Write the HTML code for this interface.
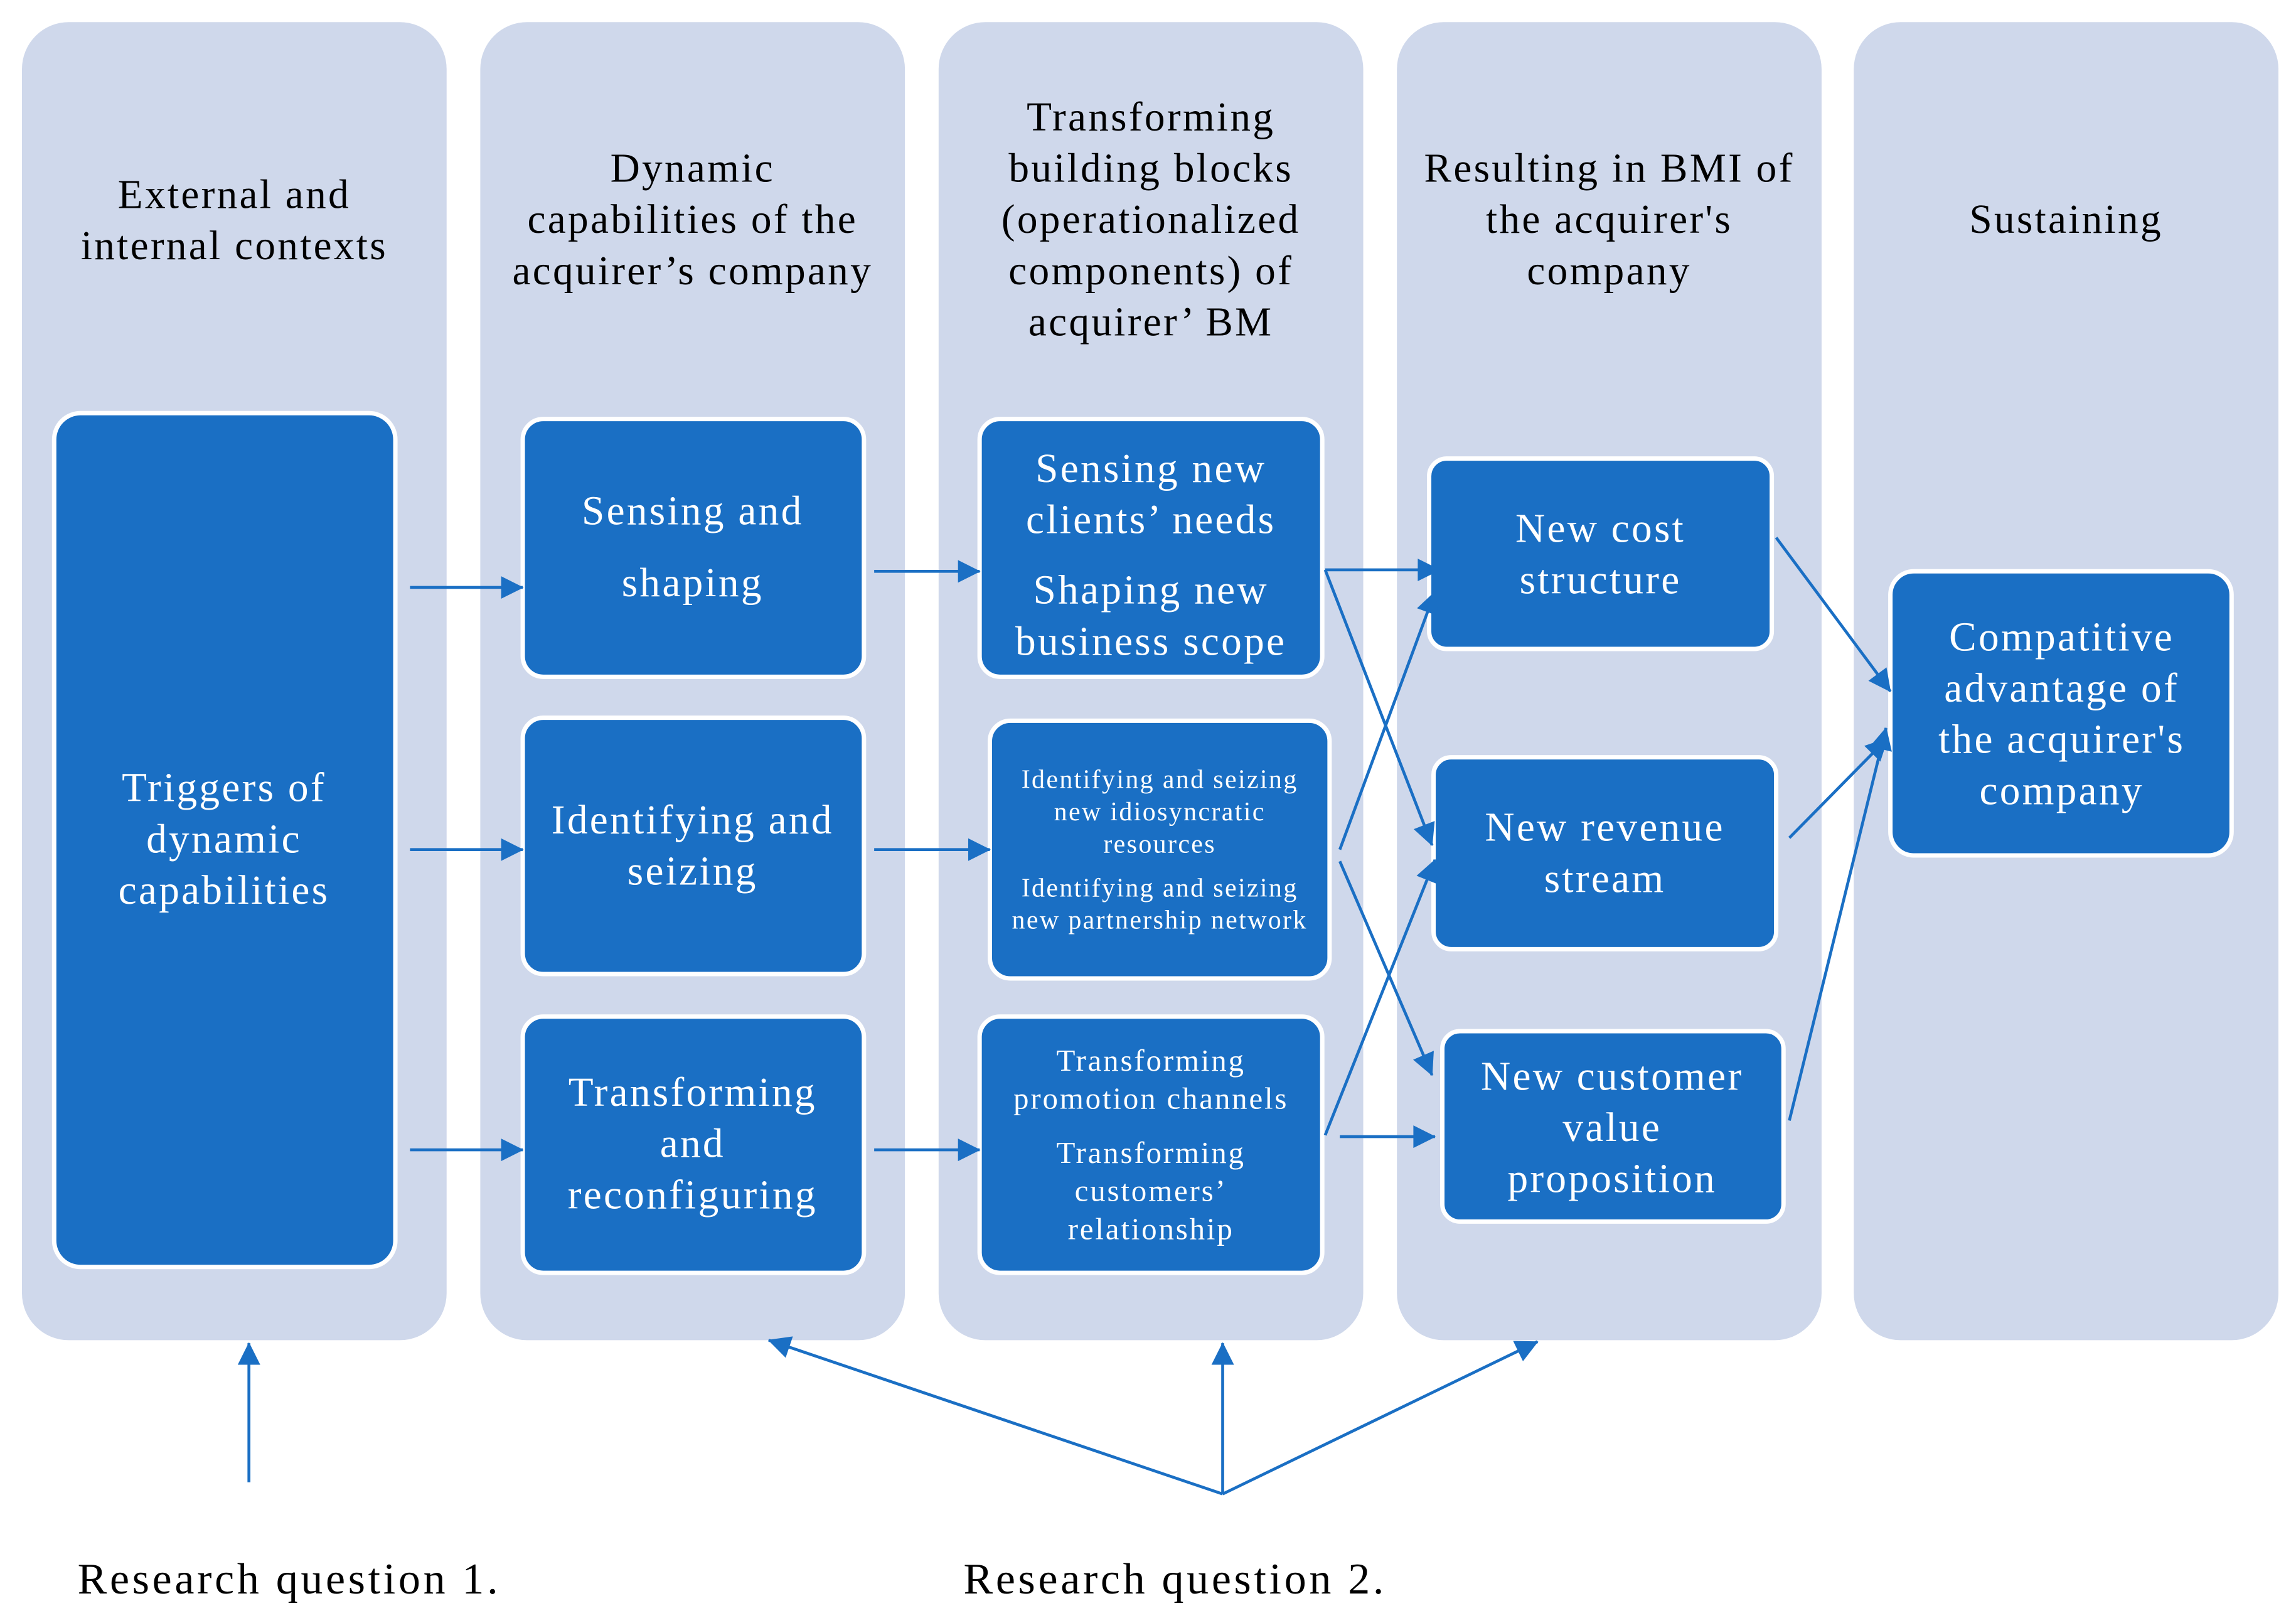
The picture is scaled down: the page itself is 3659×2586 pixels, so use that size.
<!DOCTYPE html>
<html><head><meta charset="utf-8"><style>
html,body{margin:0;padding:0;background:#fff;}
svg{display:block;}
text{font-family:"Liberation Serif",serif;fill:#000;}
.w{fill:#fff;}
</style></head><body>
<svg width="3659" height="2586" viewBox="0 0 1568 1108" xmlns="http://www.w3.org/2000/svg">
<defs>
<marker id="a" viewBox="0 0 10 10" refX="9" refY="5" markerWidth="7" markerHeight="7" orient="auto" markerUnits="userSpaceOnUse" style="overflow:visible">
<path d="M0,0 L10,5 L0,10 z" fill="#1a6fc4" transform="scale(2.2) translate(-5.5,-2.7)"/>
</marker>
</defs>
<g fill="#cfd8eb">
<rect x="15" y="15" width="290" height="900" rx="32"/>
<rect x="328" y="15" width="290" height="900" rx="32"/>
<rect x="641" y="15" width="290" height="900" rx="32"/>
<rect x="954" y="15" width="290" height="900" rx="32"/>
<rect x="1266" y="15" width="290" height="900" rx="32"/>
</g>
<g font-size="28" text-anchor="middle" letter-spacing="1.4">
<text x="160" y="142">External and</text><text x="160" y="177">internal contexts</text>
<text x="473" y="124">Dynamic</text><text x="473" y="159">capabilities of the</text><text x="473" y="194">acquirer’s company</text>
<text x="786" y="89">Transforming</text><text x="786" y="124">building blocks</text><text x="786" y="159">(operationalized</text><text x="786" y="194">components) of</text><text x="786" y="229">acquirer’ BM</text>
<text x="1099" y="124">Resulting in BMI of</text><text x="1099" y="159">the acquirer's</text><text x="1099" y="194">company</text>
<text x="1411" y="159">Sustaining</text>
</g>
<g fill="#1a6fc4" stroke="#fff" stroke-width="3">
<rect x="37" y="282" width="233" height="583" rx="18"/>
<rect x="357" y="286" width="233" height="176" rx="14"/>
<rect x="357" y="490" width="233" height="175" rx="14"/>
<rect x="357" y="694" width="233" height="175" rx="14"/>
<rect x="669" y="286" width="234" height="176" rx="14"/>
<rect x="676" y="492" width="232" height="176" rx="14"/>
<rect x="669" y="694" width="234" height="175" rx="14"/>
<rect x="976" y="313" width="234" height="130" rx="12"/>
<rect x="979" y="517" width="234" height="131" rx="12"/>
<rect x="985" y="704" width="233" height="130" rx="12"/>
<rect x="1291" y="390" width="233" height="194" rx="16"/>
</g>
<g font-size="28" text-anchor="middle" letter-spacing="1.4">
<text class="w" x="153" y="547">Triggers of</text><text class="w" x="153" y="582">dynamic</text><text class="w" x="153" y="617">capabilities</text>
<text class="w" x="473" y="358">Sensing  and</text><text class="w" x="473" y="407">shaping</text>
<text class="w" x="473" y="569">Identifying and</text><text class="w" x="473" y="604">seizing</text>
<text class="w" x="473" y="755">Transforming</text><text class="w" x="473" y="790">and</text><text class="w" x="473" y="825">reconfiguring</text>
<text class="w" x="786" y="329">Sensing new</text><text class="w" x="786" y="364">clients’ needs</text><text class="w" x="786" y="412">Shaping new</text><text class="w" x="786" y="447">business scope</text>
<text class="w" x="1093" y="370">New cost</text><text class="w" x="1093" y="405">structure</text>
<text class="w" x="1096" y="574">New revenue</text><text class="w" x="1096" y="609">stream</text>
<text class="w" x="1101" y="744">New customer</text><text class="w" x="1101" y="779">value</text><text class="w" x="1101" y="814">proposition</text>
<text class="w" x="1408" y="444">Compatitive</text><text class="w" x="1408" y="479">advantage of</text><text class="w" x="1408" y="514">the acquirer's</text><text class="w" x="1408" y="549">company</text>
</g>
<g font-size="18" text-anchor="middle" letter-spacing="1">
<text class="w" x="792" y="538">Identifying and seizing</text><text class="w" x="792" y="560">new idiosyncratic</text><text class="w" x="792" y="582">resources</text>
<text class="w" x="792" y="612">Identifying and seizing</text><text class="w" x="792" y="634">new partnership network</text>
</g>
<g font-size="21" text-anchor="middle" letter-spacing="1.2">
<text class="w" x="786" y="731">Transforming</text><text class="w" x="786" y="757">promotion channels</text>
<text class="w" x="786" y="794">Transforming</text><text class="w" x="786" y="820">customers’</text><text class="w" x="786" y="846">relationship</text>
</g>
<g stroke="#1a6fc4" stroke-width="2" fill="none" marker-end="url(#a)">
<line x1="280" y1="401" x2="357" y2="401"/>
<line x1="280" y1="580" x2="357" y2="580"/>
<line x1="280" y1="785" x2="357" y2="785"/>
<line x1="597" y1="390" x2="669" y2="390"/>
<line x1="597" y1="580" x2="676" y2="580"/>
<line x1="597" y1="785" x2="669" y2="785"/>
<line x1="905" y1="389" x2="983" y2="389"/>
<line x1="905" y1="389" x2="978" y2="577"/>
<line x1="915" y1="580" x2="980" y2="404"/>
<line x1="915" y1="588" x2="978" y2="734"/>
<line x1="905" y1="775" x2="980" y2="587"/>
<line x1="915" y1="776" x2="980" y2="776"/>
<line x1="1213" y1="367" x2="1291" y2="472"/>
<line x1="1222" y1="572" x2="1289" y2="504"/>
<line x1="1222" y1="765" x2="1288" y2="497"/>
<line x1="170" y1="1012" x2="170" y2="917"/>
<line x1="835" y1="1020" x2="525" y2="915"/>
<line x1="835" y1="1020" x2="835" y2="917"/>
<line x1="835" y1="1020" x2="1050" y2="916"/>
</g>
<g font-size="30" letter-spacing="2">
<text x="53" y="1088">Research question 1.</text>
<text x="658" y="1088">Research question 2.</text>
</g>
</svg>
</body></html>
